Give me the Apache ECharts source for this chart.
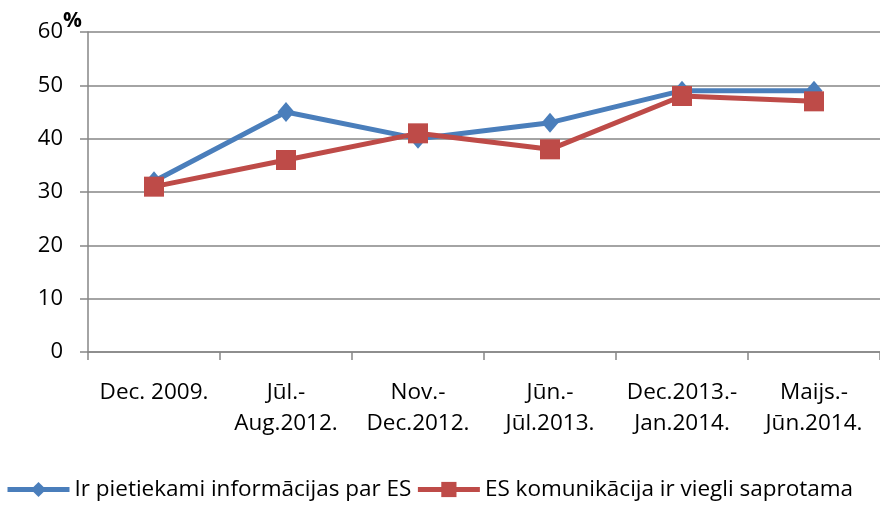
<!DOCTYPE html>
<html>
<head>
<meta charset="utf-8">
<script src="https://cdn.jsdelivr.net/npm/echarts@6/dist/echarts.min.js"></script>
<style>
html, body { margin: 0; padding: 0; background: #fff; }
#chart { width: 880px; height: 509px; }
</style>
</head>
<body>
<div id="chart"></div>
<script>
const categories = ['Dec. 2009.', 'Jūl.-\nAug.2012.', 'Nov.-\nDec.2012.', 'Jūn.-\nJūl.2013.', 'Dec.2013.-\nJan.2014.', 'Maijs.-\nJūn.2014.']
const infoValues = [32, 45, 40, 43, 49, 49]
const commValues = [31, 36, 41, 38, 48, 47]
const seriesNames = ['Ir pietiekami informācijas par ES', 'ES komunikācija ir viegli saprotama']

const font = 'Open Sans'
const chart = echarts.init(document.getElementById('chart'))
chart.setOption({
    animation: false,
    textStyle: { fontFamily: font },
    grid: { left: 88, top: 32, width: 798, height: 320 },
    graphic: [{
        type: 'text', left: 63, top: 11,
        style: { text: '%', font: 'bold 21px ' + font, fill: '#000' }
    }],
    legend: {
        bottom: 3, left: 0,
        itemWidth: 62, itemHeight: 19, itemGap: 4,
        lineStyle: { width: 5 },
        textStyle: { fontSize: 22.5, color: '#000', fontFamily: font },
        data: seriesNames
    },
    xAxis: {
        type: 'category',
        data: categories,
        axisLine: { lineStyle: { color: '#868686', width: 1.5 } },
        axisTick: { show: true, length: 8, lineStyle: { color: '#868686', width: 1.5 } },
        axisLabel: { color: '#000', fontSize: 22.5, margin: 25, lineHeight: 31, interval: 0 }
    },
    yAxis: {
        type: 'value', min: 0, max: 60, interval: 10,
        axisLine: { show: true, lineStyle: { color: '#868686', width: 1.5 } },
        axisTick: { show: true, length: 8, lineStyle: { color: '#868686', width: 1.5 } },
        splitLine: { lineStyle: { color: '#868686', width: 1.5 } },
        axisLabel: { color: '#000', fontSize: 22, margin: 25 }
    },
    series: [
        {
            name: seriesNames[0], type: 'line', data: infoValues,
            symbol: 'diamond', symbolSize: [17, 20],
            lineStyle: { width: 5, color: '#4a7ebb' },
            itemStyle: { color: '#4a7ebb' }
        },
        {
            name: seriesNames[1], type: 'line', data: commValues,
            symbol: 'rect', symbolSize: 20,
            lineStyle: { width: 5, color: '#be4b48' },
            itemStyle: { color: '#be4b48' }
        }
    ]
})
</script>
</body>
</html>
